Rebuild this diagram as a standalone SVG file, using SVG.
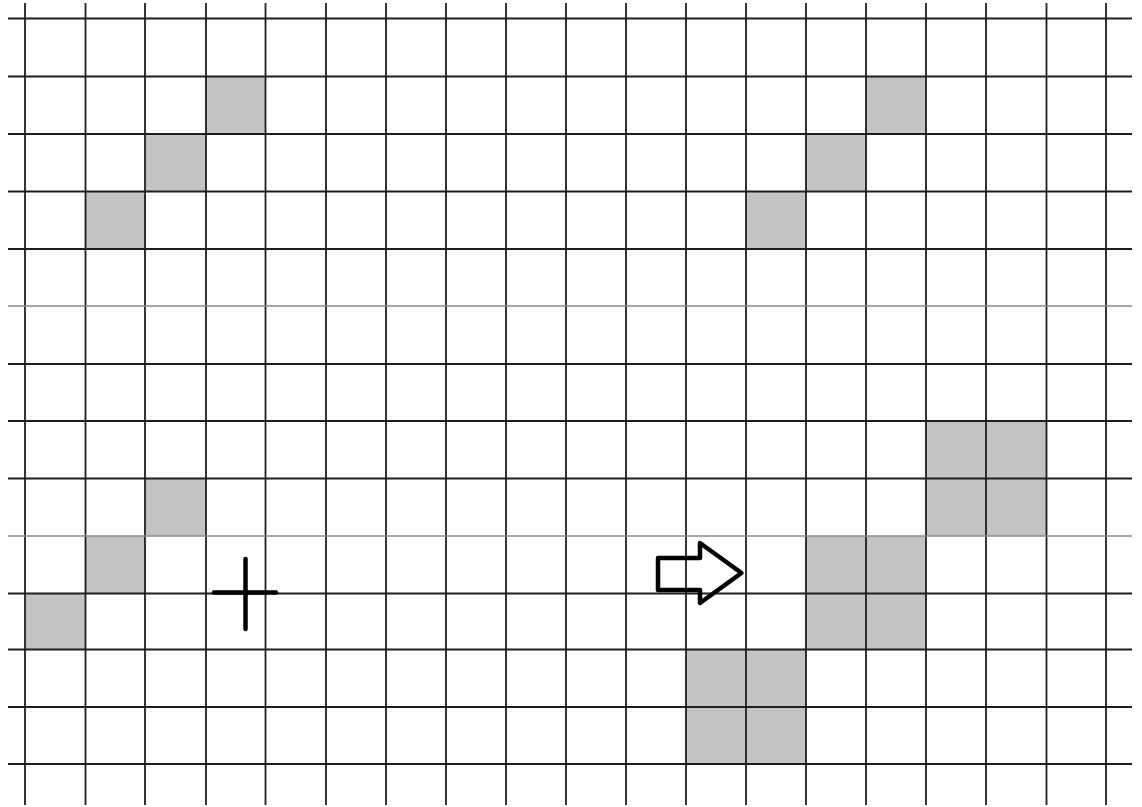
<svg xmlns="http://www.w3.org/2000/svg" width="1142" height="807" viewBox="0 0 1142 807">
<style>
.g{fill:#c3c3c3}
.l{stroke:#1e1e1e;stroke-width:1.8}
.lt{stroke:#8a8a8a;stroke-width:1.6}
.m{fill:none;stroke:#000;stroke-width:4.5;stroke-linecap:round;stroke-linejoin:round}
</style>
<rect width="1142" height="807" fill="#fff"/>
<g id="cells">
<rect class="g" x="206" y="76.5" width="60" height="57.5"/>
<rect class="g" x="145" y="134" width="61" height="57.5"/>
<rect class="g" x="85" y="191.5" width="60" height="57.5"/>
<rect class="g" x="145" y="478.5" width="61" height="57.5"/>
<rect class="g" x="85" y="536" width="60" height="57.5"/>
<rect class="g" x="25" y="593.5" width="60" height="56"/>
<rect class="g" x="866" y="76.5" width="60" height="57.5"/>
<rect class="g" x="806" y="134" width="60" height="57.5"/>
<rect class="g" x="746" y="191.5" width="60" height="57.5"/>
<rect class="g" x="926" y="421" width="120" height="115"/>
<rect class="g" x="806" y="536" width="120" height="114"/>
<rect class="g" x="686" y="650" width="120" height="114"/>
</g>
<g id="grid">
<line class="l" x1="25" y1="3" x2="25" y2="805"/>
<line class="l" x1="85.5" y1="3" x2="85.5" y2="805"/>
<line class="l" x1="145" y1="3" x2="145" y2="805"/>
<line class="l" x1="206" y1="3" x2="206" y2="805"/>
<line class="l" x1="265.5" y1="3" x2="265.5" y2="805"/>
<line class="l" x1="326" y1="3" x2="326" y2="805"/>
<line class="l" x1="386" y1="3" x2="386" y2="805"/>
<line class="l" x1="446" y1="3" x2="446" y2="805"/>
<line class="l" x1="506" y1="3" x2="506" y2="805"/>
<line class="l" x1="566" y1="3" x2="566" y2="805"/>
<line class="l" x1="626" y1="3" x2="626" y2="805"/>
<line class="l" x1="686" y1="3" x2="686" y2="805"/>
<line class="l" x1="746" y1="3" x2="746" y2="805"/>
<line class="l" x1="806" y1="3" x2="806" y2="805"/>
<line class="l" x1="866" y1="3" x2="866" y2="805"/>
<line class="l" x1="926" y1="3" x2="926" y2="805"/>
<line class="l" x1="986" y1="3" x2="986" y2="805"/>
<line class="l" x1="1046.5" y1="3" x2="1046.5" y2="805"/>
<line class="l" x1="1106" y1="3" x2="1106" y2="805"/>
<line class="l" x1="8" y1="18.5" x2="1132" y2="18.5"/>
<line class="l" x1="8" y1="76.5" x2="1132" y2="76.5"/>
<line class="l" x1="8" y1="134" x2="1132" y2="134"/>
<line class="l" x1="8" y1="191.5" x2="1132" y2="191.5"/>
<line class="l" x1="8" y1="249" x2="1132" y2="249"/>
<line class="lt" x1="8" y1="306" x2="1132" y2="306"/>
<line class="l" x1="8" y1="364" x2="1132" y2="364"/>
<line class="l" x1="8" y1="421" x2="1132" y2="421"/>
<line class="l" x1="8" y1="478.5" x2="1132" y2="478.5"/>
<line class="lt" x1="8" y1="536" x2="1132" y2="536"/>
<line class="l" x1="8" y1="593.5" x2="1132" y2="593.5"/>
<line class="l" x1="8" y1="649.5" x2="1132" y2="649.5"/>
<line class="l" x1="8" y1="707" x2="1132" y2="707"/>
<line class="l" x1="8" y1="764" x2="1132" y2="764"/>
</g>
<g id="plus">
<line class="m" x1="214" y1="592.5" x2="276" y2="592.5"/>
<line class="m" x1="245.5" y1="559" x2="245.5" y2="629"/>
</g>
<g id="arrow">
<polygon class="m" points="658,558 700,558 700,543 741.5,573 700,603 700,590 658,590"/>
</g>
</svg>
